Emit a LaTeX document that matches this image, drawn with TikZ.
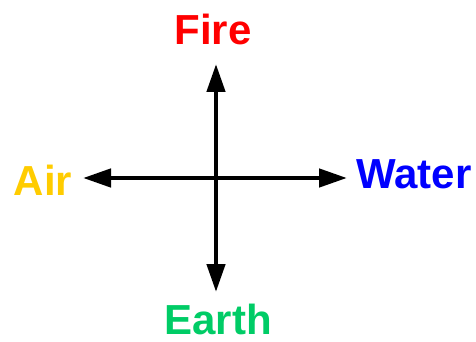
\documentclass[tikz,border=0pt]{standalone}
\usepackage{fontspec}
\setmainfont{Liberation Sans}
\usetikzlibrary{arrows.meta}
\definecolor{firered}{RGB}{255,0,0}
\definecolor{waterblue}{RGB}{0,0,255}
\definecolor{airgold}{RGB}{255,204,0}
\definecolor{earthgreen}{RGB}{0,204,102}
\tikzset{
  label/.style={font=\fontsize{42}{42}\selectfont\bfseries, inner sep=0pt, anchor=base},
  axis/.style={line width=4.5pt, {Triangle[length=28pt,width=18pt]}-{Triangle[length=28pt,width=18pt]}}
}
\begin{document}
\begin{tikzpicture}[x=1pt,y=-1pt]
\useasboundingbox (0,0) rectangle (476,342);
\node[label, text=firered] (fire) at (213,45) {Fire};
\node[label, text=airgold] (air) at (43,195) {Air};
\node[label, text=waterblue] (water) at (414,188) {Water};
\node[label, text=earthgreen] (earth) at (218,334) {Earth};
\coordinate (top) at (216,64);
\coordinate (bottom) at (216,292);
\coordinate (left) at (83,178);
\coordinate (right) at (347,178);
\draw[axis] (top) -- (bottom);
\draw[axis] (left) -- (right);
\end{tikzpicture}
\end{document}
